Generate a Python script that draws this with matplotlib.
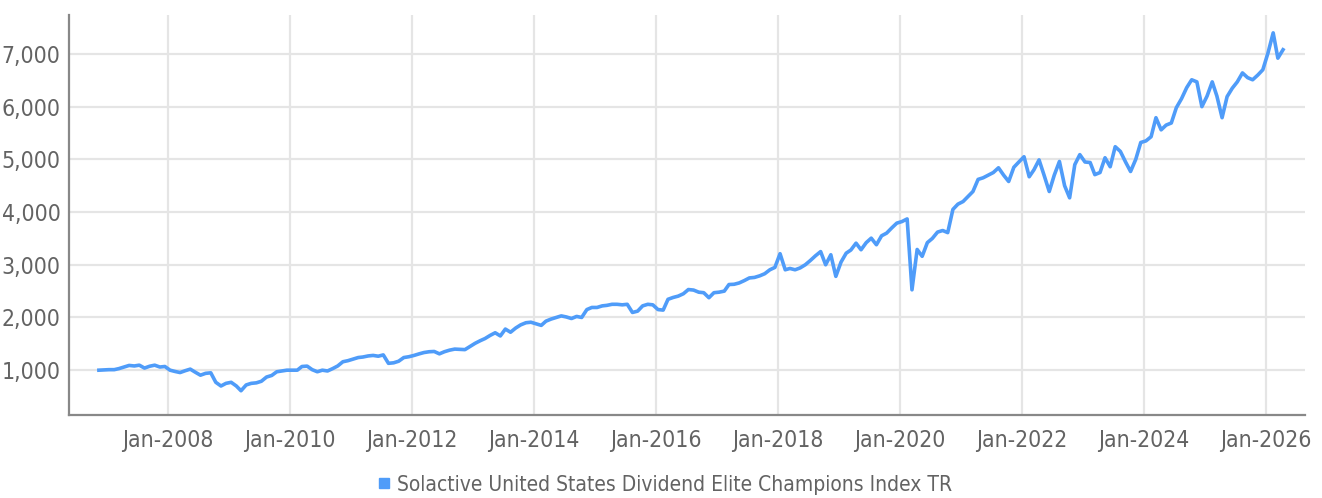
import pandas as pd
import matplotlib.pyplot as plt
from matplotlib import font_manager
from matplotlib.lines import Line2D
from matplotlib.ticker import FuncFormatter

# Index level, monthly (mid-month), Nov 2006 - Apr 2026
values_2006 = [1000, 1005]
values_2007 = [1010, 1010, 1030, 1060, 1090, 1080, 1095, 1040, 1075, 1095, 1060, 1070]
values_2008 = [1000, 975, 955, 990, 1020, 960, 905, 940, 950, 770, 700, 750]
values_2009 = [770, 700, 610, 720, 750, 760, 790, 870, 900, 970, 985, 1000]
values_2010 = [1000, 1000, 1070, 1077, 1010, 970, 1000, 985, 1030, 1080, 1160, 1180]
values_2011 = [1210, 1240, 1250, 1270, 1280, 1265, 1290, 1130, 1140, 1170, 1240, 1255]
values_2012 = [1280, 1310, 1335, 1350, 1355, 1310, 1350, 1380, 1400, 1395, 1390, 1450]
values_2013 = [1510, 1560, 1600, 1660, 1710, 1650, 1780, 1720, 1800, 1860, 1900, 1910]
values_2014 = [1880, 1850, 1930, 1970, 2000, 2030, 2010, 1980, 2020, 2000, 2150, 2190]
values_2015 = [2190, 2220, 2230, 2250, 2250, 2240, 2250, 2095, 2120, 2220, 2250, 2240]
values_2016 = [2150, 2140, 2345, 2380, 2405, 2450, 2530, 2520, 2480, 2470, 2375, 2470]
values_2017 = [2480, 2500, 2625, 2630, 2655, 2700, 2750, 2760, 2790, 2830, 2905, 2950]
values_2018 = [3210, 2905, 2930, 2905, 2940, 3000, 3080, 3170, 3250, 3000, 3190, 2780]
values_2019 = [3050, 3220, 3280, 3410, 3285, 3420, 3505, 3380, 3550, 3600, 3700, 3790]
values_2020 = [3820, 3870, 2525, 3290, 3160, 3420, 3500, 3620, 3650, 3610, 4050, 4150]
values_2021 = [4200, 4300, 4390, 4620, 4650, 4700, 4750, 4840, 4700, 4580, 4850, 4950]
values_2022 = [5050, 4670, 4800, 4990, 4700, 4390, 4700, 4960, 4500, 4270, 4900, 5090]
values_2023 = [4950, 4940, 4710, 4750, 5030, 4860, 5240, 5150, 4950, 4770, 5000, 5320]
values_2024 = [5350, 5430, 5790, 5560, 5650, 5690, 5980, 6150, 6360, 6510, 6470, 6000]
values_2025 = [6200, 6470, 6200, 5790, 6190, 6350, 6470, 6640, 6550, 6510, 6600, 6700]
values_2026 = [7020, 7400, 6920, 7080]

index_values = (values_2006 + values_2007 + values_2008 + values_2009 + values_2010
                + values_2011 + values_2012 + values_2013 + values_2014 + values_2015
                + values_2016 + values_2017 + values_2018 + values_2019 + values_2020
                + values_2021 + values_2022 + values_2023 + values_2024 + values_2025
                + values_2026)
dates = pd.date_range('2006-11-01', '2026-04-01', freq='MS') + pd.Timedelta(days=14)

tick_years = list(range(2008, 2027, 2))
tick_dates = [pd.Timestamp(f'{y}-01-01') for y in tick_years]
tick_labels = [f'Jan-{y}' for y in tick_years]
y_ticks = [1000, 2000, 3000, 4000, 5000, 6000, 7000]
series_name = 'Solactive United States Dividend Elite Champions Index TR'

# Look for a narrow/condensed regular font file; fall back to Roboto
narrow = None
for f in font_manager.fontManager.ttflist:
    cond = ('condensed' in str(f.stretch).lower() or 'Narrow' in f.name
            or 'Condensed' in f.name)
    if cond and f.style == 'normal' and f.weight in (300, 400, 'normal', 'light'):
        narrow = f
        break

if narrow is not None:
    tick_prop = font_manager.FontProperties(fname=narrow.fname, size=16.5)
    legend_prop = font_manager.FontProperties(fname=narrow.fname, size=15)
else:
    tick_prop = font_manager.FontProperties(family=['Roboto', 'DejaVu Sans'],
                                            weight='light', size=15)
    legend_prop = font_manager.FontProperties(family=['Roboto', 'DejaVu Sans'],
                                              weight='light', size=13.5)

text_color = '#636363'
line_color = '#4f9cf9'

fig = plt.figure(figsize=(13.22, 4.98), dpi=100)
ax = fig.add_axes([0.0522, 0.1667, 0.935, 0.8033])

ax.plot(dates, index_values, color=line_color, linewidth=2.6, solid_joinstyle='round')

ax.set_xlim(pd.Timestamp('2006-05-20'), pd.Timestamp('2026-08-25'))
ax.set_ylim(150, 7740)

ax.set_xticks(tick_dates)
ax.set_xticklabels(tick_labels)
ax.set_yticks(y_ticks)
ax.yaxis.set_major_formatter(FuncFormatter(lambda v, p: f'{int(v):,}'))

ax.grid(True, color='#e5e5e5', linewidth=1.6)
ax.set_axisbelow(True)
for s in ['top', 'right']:
    ax.spines[s].set_visible(False)
for s in ['left', 'bottom']:
    ax.spines[s].set_color('#888888')
    ax.spines[s].set_linewidth(1.6)

ax.tick_params(axis='both', length=0, colors=text_color)
ax.tick_params(axis='y', pad=6)
ax.tick_params(axis='x', pad=10)
for lab in ax.get_xticklabels() + ax.get_yticklabels():
    lab.set_fontproperties(tick_prop)

handle = Line2D([], [], linestyle='none', marker='s', markersize=7.5,
                color=line_color)
fig.legend([handle], [series_name], loc='center', bbox_to_anchor=(0.503, 0.027),
           frameon=False, prop=legend_prop, handlelength=0.6, handletextpad=0.3,
           labelcolor=text_color)

fig.savefig('out.png', dpi=100)
